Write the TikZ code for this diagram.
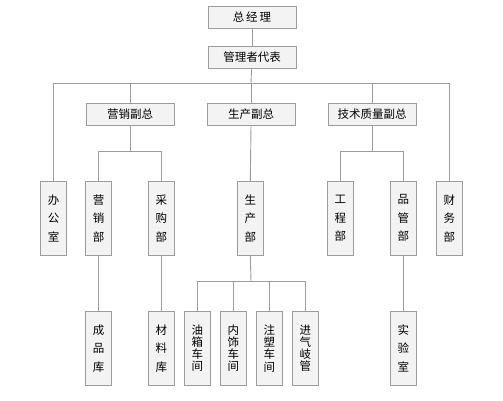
\documentclass[tikz,border=0pt]{standalone}
\usepackage{fontspec}
\setmainfont{Noto Sans CJK SC}
\usepackage{tikz}
\usetikzlibrary{positioning,calc}
\usepackage{xcolor}
\definecolor{boxline}{HTML}{9C9C9C}
\definecolor{boxfill}{HTML}{F3F3F3}

\begin{document}
\begin{tikzpicture}[x=1pt, y=-1pt,
  widebox/.style={draw=boxline, fill=boxfill, line width=0.9pt, minimum width=88pt, minimum height=22pt, inner sep=0pt, font=\fontsize{11.5}{13}\selectfont},
  tallbox/.style={draw=boxline, fill=boxfill, line width=0.9pt, minimum width=26pt, minimum height=74pt, inner sep=0pt, align=center, font=\fontsize{11.5}{18.5}\selectfont},
  tightbox/.style={tallbox, font=\fontsize{11.5}{12.2}\selectfont},
  link/.style={draw=boxline, line width=0.9pt}]
  \useasboundingbox (0,0) rectangle (503,400);
  % top levels
  \node[widebox] (gm) at (252,17) {总\,经\,理};
  \node[widebox] (rep) at (252,57) {管理者代表};
  \node[widebox] (vps) at (130,114.5) {营销副总};
  \node[widebox] (vpp) at (251,114.5) {生产副总};
  \node[widebox] (vpq) at (372,114.5) {技术质量副总};
  % departments
  \node[tallbox] (office) at (53.5,218.3) {办\\公\\室};
  \node[tallbox] (sales) at (98.5,218.3) {营\\销\\部};
  \node[tallbox] (purch) at (161.3,218.3) {采\\购\\部};
  \node[tallbox] (prod) at (250.3,218.3) {生\\产\\部};
  \node[tallbox] (eng) at (340.3,218.3) {工\\程\\部};
  \node[tallbox] (qc) at (403.3,218.3) {品\\管\\部};
  \node[tallbox] (fin) at (449.3,218.3) {财\\务\\部};
  % bottom level
  \node[tallbox] (store) at (98.5,348.3) {成\\品\\库};
  \node[tallbox] (matl) at (161.3,348.3) {材\\料\\库};
  \node[tightbox] (tank) at (197.3,348.3) {油\\箱\\车\\间};
  \node[tightbox] (trim) at (233.3,348.3) {内\\饰\\车\\间};
  \node[tightbox] (mold) at (269.3,348.3) {注\\塑\\车\\间};
  \node[tightbox] (intake) at (305.3,348.3) {进\\气\\岐\\管};
  \node[tallbox] (lab) at (403.3,348.3) {实\\验\\室};
  % junctions
  \coordinate (j1) at (251,83.3);
  \coordinate (j2) at (130,151.3);
  \coordinate (j3) at (372,151.3);
  \coordinate (j4) at (251,281.3);
  \draw[link] (gm) -- (rep);
  \draw[link] (rep) -- (j1);
  \draw[link] (office.north) |- (j1) -| (fin.north);
  \draw[link] (vps.north) -- (vps.north |- j1);
  \draw[link] (vpq.north) -- (vpq.north |- j1);
  \draw[link] (j1) -- (vpp.north);
  \draw[link] (vps.south) -- (j2);
  \draw[link] (sales.north) |- (j2) -| (purch.north);
  \draw[link] (vpq.south) -- (j3);
  \draw[link] (eng.north) |- (j3) -| (qc.north);
  \draw[link] (vpp.south) -- (prod.north);
  \draw[link] (prod.south) -- (j4);
  \draw[link] (tank.north) |- (j4) -| (intake.north);
  \draw[link] (trim.north) -- (trim.north |- j4);
  \draw[link] (mold.north) -- (mold.north |- j4);
  \draw[link] (sales) -- (store);
  \draw[link] (purch) -- (matl);
  \draw[link] (qc) -- (lab);
\end{tikzpicture}
\end{document}
